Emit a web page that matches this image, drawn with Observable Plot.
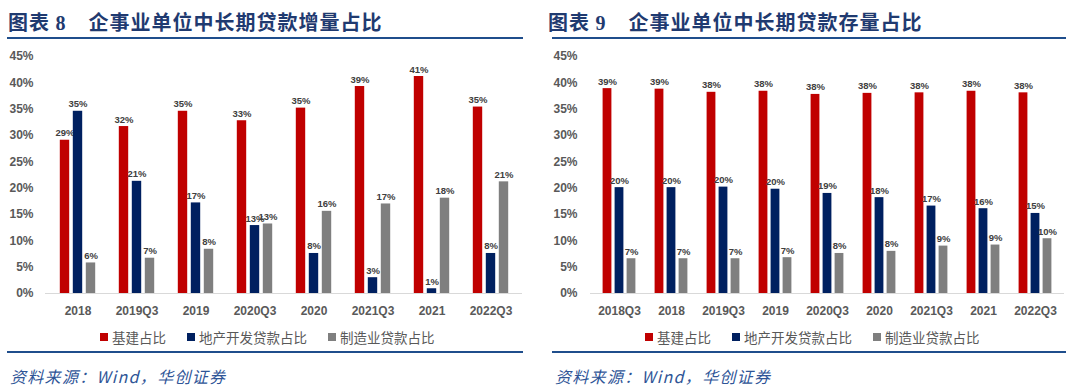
<!DOCTYPE html>
<html>
<head>
<meta charset="utf-8">
<script src="https://cdn.jsdelivr.net/npm/d3@7"></script>
<script src="https://cdn.jsdelivr.net/npm/@observablehq/plot@0.6"></script>
<style>
  html, body { margin: 0; padding: 0; background: #fff; }
  #root { position: relative; width: 1080px; height: 392px; overflow: hidden; background: #fff; }
  .title { position: absolute; top: 7px; font-family: "Noto Sans CJK SC", sans-serif; font-weight: 700; font-size: 20px; color: #1F3A70; white-space: nowrap; letter-spacing: 1px; }
  .title .num { font-family: "Liberation Serif", "Noto Sans CJK SC", serif; }
  .rule { position: absolute; height: 2px; background: #1F4E8C; }
  .chart { position: absolute; top: 40px; }
  .legend { position: absolute; top: 327px; font-family: "Noto Sans CJK SC", sans-serif; font-size: 13.5px; color: #595959; white-space: nowrap; display: flex; align-items: center; }
  .legend .item { display: flex; align-items: center; margin-right: 21px; }
  .legend .sw { width: 8px; height: 8px; margin-right: 4px; display: inline-block; }
  .source { position: absolute; top: 364px; font-family: "Noto Sans CJK SC", sans-serif; font-style: italic; font-size: 16px; color: #2F5597; white-space: nowrap; letter-spacing: 1.3px; }
</style>
</head>
<body>
<div id="root"></div>
<script>
// ---------- data ----------
const seriesNames = ["基建占比", "地产开发贷款占比", "制造业贷款占比"];
const seriesColors = ["#C00000", "#002060", "#7F7F7F"];

// Chart 8: 增量占比
const catsL = ["2018", "2019Q3", "2019", "2020Q3", "2020", "2021Q3", "2021", "2022Q3"];
const infraL = [29.1, 31.7, 34.6, 32.8, 35.2, 39.3, 41.2, 35.4];
const realEstateL = [34.6, 21.3, 17.2, 12.9, 7.6, 3.0, 0.9, 7.6];
const mfgL = [5.8, 6.7, 8.4, 13.2, 15.6, 17.0, 18.1, 21.2];

// Chart 9: 存量占比
const catsR = ["2018Q3", "2018", "2019Q3", "2019", "2020Q3", "2020", "2021Q3", "2021", "2022Q3"];
const infraR = [38.9, 38.8, 38.2, 38.4, 37.8, 38.0, 38.1, 38.4, 38.1];
const realEstateR = [20.1, 20.1, 20.2, 19.8, 19.0, 18.2, 16.6, 16.1, 15.2];
const mfgR = [6.6, 6.6, 6.6, 6.8, 7.6, 8.0, 9.0, 9.2, 10.4];

const yTicks = [0, 5, 10, 15, 20, 25, 30, 35, 40, 45];

const titleL = ["图表 ", "8", "企事业单位中长期贷款增量占比"];
const titleR = ["图表 ", "9", "企事业单位中长期贷款存量占比"];
const sourceText = "资料来源：Wind，华创证券";

// ---------- drawing ----------
const root = document.getElementById("root");

function makeChart(cats, seriesVals, opts) {
  const marks = [Plot.ruleY([0], {stroke: "#D9D9D9", strokeWidth: 1})];
  seriesVals.forEach((vals, si) => {
    const data = cats.map((c, i) => ({cat: c, v: vals[i]}));
    const dx = (si - 1) * opts.offset;
    marks.push(Plot.barY(data, {
      x: "cat", y: "v", fill: seriesColors[si],
      insetLeft: opts.inset, insetRight: opts.inset, dx
    }));
    marks.push(Plot.text(data, {
      x: "cat", y: "v", text: d => Math.round(d.v) + "%",
      dx, dy: -4, lineAnchor: "bottom",
      fill: "#404040", fontSize: 9.5, fontWeight: "bold"
    }));
  });
  return Plot.plot({
    width: opts.width,
    height: 290,
    marginTop: 16,
    marginBottom: 37,
    marginLeft: opts.marginLeft,
    marginRight: opts.marginRight,
    style: {fontFamily: "'Liberation Sans', Arial, sans-serif", fontWeight: "bold", fontSize: "12px", color: "#595959", background: "transparent", overflow: "visible"},
    x: {domain: cats, padding: 0, tickSize: 0, tickPadding: 13, label: null},
    y: {domain: [0, 45], ticks: yTicks, tickFormat: d => d + "%", tickSize: 0, tickPadding: opts.tickPad, label: null},
    marks
  });
}

function addPanel(left, ruleLeft, ruleWidth, title, cats, vals, opts, legendLeft) {
  const t = document.createElement("div");
  t.className = "title";
  t.style.left = (left + 8) + "px";
  t.innerHTML = `<span>${title[0]}</span><span class="num">${title[1]}</span><span style="margin-left:22px">${title[2]}</span>`;
  root.appendChild(t);

  const r1 = document.createElement("div");
  r1.className = "rule";
  r1.style.left = ruleLeft + "px"; r1.style.width = ruleWidth + "px"; r1.style.top = "37px";
  root.appendChild(r1);

  const c = document.createElement("div");
  c.className = "chart";
  c.style.left = left + "px";
  c.appendChild(makeChart(cats, vals, opts));
  root.appendChild(c);

  const lg = document.createElement("div");
  lg.className = "legend";
  lg.style.left = legendLeft + "px";
  seriesNames.forEach((n, i) => {
    const it = document.createElement("span");
    it.className = "item";
    it.innerHTML = `<span class="sw" style="background:${seriesColors[i]}"></span><span>${n}</span>`;
    lg.appendChild(it);
  });
  root.appendChild(lg);

  const r2 = document.createElement("div");
  r2.className = "rule";
  r2.style.left = ruleLeft + "px"; r2.style.width = ruleWidth + "px"; r2.style.top = "351px";
  root.appendChild(r2);

  const s = document.createElement("div");
  s.className = "source";
  s.style.left = (ruleLeft + 3) + "px";
  s.textContent = sourceText;
  root.appendChild(s);
}

addPanel(0, 7, 516, titleL, catsL, [infraL, realEstateL, mfgL],
  {width: 530, marginLeft: 45, marginRight: 8, inset: 24.8, offset: 13, tickPad: 12}, 100);
addPanel(540, 552, 514, titleR, catsR, [infraR, realEstateR, mfgR],
  {width: 530, marginLeft: 50, marginRight: 6, inset: 21.6, offset: 12, tickPad: 13}, 645);
</script>
</body>
</html>
